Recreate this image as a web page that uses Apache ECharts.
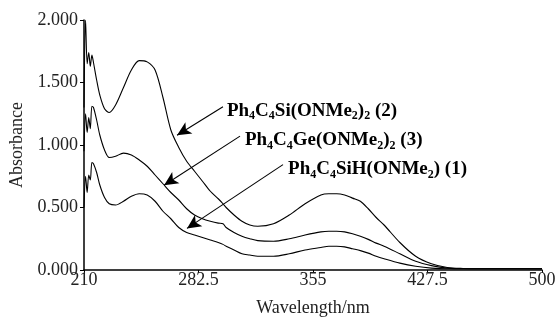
<!DOCTYPE html>
<html><head><meta charset="utf-8">
<script src="https://cdn.jsdelivr.net/npm/echarts@6/dist/echarts.min.js"></script>
<style>html,body{margin:0;padding:0;background:#fff}#c{width:559px;height:322px}</style>
</head><body><div id="c"></div>
<script>
// ---- data ----
const wavelengths = [210,211,212,213,214,215,216,218,220,223,226,230,235,240,245,250,255,260,265,270,275,280,285,290,295,298,300,305,310,315,320,330,340,350,360,365,370,375,380,385,390,395,400,410,420,430,440,450,460,470,480,490,500];
const absSi2 =  [1.30,2.00,1.65,1.74,1.63,1.72,1.66,1.52,1.40,1.29,1.26,1.32,1.46,1.60,1.675,1.665,1.60,1.38,1.12,0.98,0.87,0.79,0.71,0.63,0.57,0.53,0.50,0.44,0.39,0.36,0.35,0.37,0.44,0.53,0.60,0.61,0.61,0.60,0.575,0.55,0.49,0.42,0.36,0.22,0.11,0.05,0.02,0.012,0.01,0.01,0.01,0.01,0.01];
const absGe3 =  [0.95,1.25,1.10,1.22,1.13,1.31,1.30,1.20,1.08,0.96,0.90,0.91,0.935,0.92,0.88,0.83,0.76,0.69,0.62,0.56,0.49,0.44,0.41,0.39,0.375,0.37,0.34,0.30,0.27,0.25,0.235,0.23,0.25,0.28,0.305,0.31,0.31,0.305,0.29,0.27,0.245,0.215,0.19,0.13,0.07,0.035,0.015,0.01,0.01,0.01,0.01,0.01,0.01];
const absSiH1 = [0.50,0.75,0.62,0.76,0.72,0.86,0.85,0.78,0.68,0.58,0.53,0.52,0.55,0.59,0.61,0.60,0.55,0.47,0.41,0.34,0.30,0.28,0.26,0.24,0.22,0.205,0.19,0.16,0.13,0.12,0.11,0.11,0.13,0.16,0.18,0.19,0.19,0.185,0.17,0.155,0.135,0.11,0.09,0.055,0.03,0.015,0.01,0.01,0.01,0.01,0.01,0.01,0.01];
const xTickLabels = [210, 282.5, 355, 427.5, 500];
const yTickLabels = [0, 0.5, 1, 1.5, 2];
const seriesNames = ['Ph4C4SiH(ONMe2) (1)','Ph4C4Si(ONMe2)2 (2)','Ph4C4Ge(ONMe2)2 (3)'];

// ---- annotations (layout, data-space anchors) ----
const annotations = [
  {text:'{n|Ph}{s|4}{n|C}{s|4}{n|Si(ONMe}{s|2}{n|)}{s|2}{n| (2)}', at:[300.5,1.275], from:[298.0,1.306], to:[268.9,1.078]},
  {text:'{n|Ph}{s|4}{n|C}{s|4}{n|Ge(ONMe}{s|2}{n|)}{s|2}{n| (3)}', at:[311.9,1.039], from:[308.8,1.071], to:[260.7,0.678]},
  {text:'{n|Ph}{s|4}{n|C}{s|4}{n|SiH(ONMe}{s|2}{n|) (1)}', at:[339.2,0.804], from:[336.0,0.843], to:[275.2,0.333]}
];

const xStep = xTickLabels[1]-xTickLabels[0];
const yStep = yTickLabels[1]-yTickLabels[0];
const font = '"Liberation Serif", "Times New Roman", serif';
const pair = arr => wavelengths.map((w,i)=>[w,arr[i]]);

const lineBase = {type:'line', showSymbol:false, smooth:0.3, lineStyle:{color:'#000', width:1.1}, silent:true};

const chart = echarts.init(document.getElementById('c'));
chart.setOption({
  animation:false,
  backgroundColor:'#fff',
  grid:{left:84, right:17, top:20, bottom:48},
  xAxis:{type:'value', min:xTickLabels[0], max:xTickLabels[xTickLabels.length-1], interval:xStep,
    axisLine:{lineStyle:{color:'#000', width:1.5}}, axisTick:{show:true, length:3, inside:false, lineStyle:{color:'#000'}},
    splitLine:{show:false},
    axisLabel:{color:'#222', fontFamily:font, fontSize:18, margin:1, formatter:v=>String(v)},
    name:'Wavelength/nm', nameLocation:'middle', nameGap:29, nameTextStyle:{color:'#222', fontFamily:font, fontSize:18}},
  yAxis:{type:'value', min:yTickLabels[0], max:yTickLabels[yTickLabels.length-1], interval:yStep,
    axisLine:{show:true, lineStyle:{color:'#000', width:1.5}}, axisTick:{show:true, length:4, lineStyle:{color:'#000'}},
    splitLine:{show:false},
    axisLabel:{color:'#222', fontFamily:font, fontSize:18, margin:6, formatter:v=>v.toFixed(3)},
    name:'Absorbance', nameLocation:'middle', nameGap:57, nameTextStyle:{color:'#222', fontFamily:font, fontSize:18}},
  series:[
    Object.assign({}, lineBase, {name:seriesNames[0], data:pair(absSiH1)}),
    Object.assign({}, lineBase, {name:seriesNames[1], data:pair(absSi2)}),
    Object.assign({}, lineBase, {name:seriesNames[2], data:pair(absGe3),
      markLine:{silent:true, symbol:['none','arrow'], symbolSize:[10,14], animation:false,
        lineStyle:{color:'#000', type:'solid', width:1.1}, label:{show:false},
        data:annotations.map(a=>[{coord:a.from},{coord:a.to}])},
      markPoint:{silent:true, symbol:'circle', symbolSize:0, animation:false,
        label:{show:true, position:'right', distance:0, color:'#000',
          rich:{n:{fontFamily:font, fontSize:19, fontWeight:'bold', color:'#000', lineHeight:23},
                s:{fontFamily:font, fontSize:12, fontWeight:'bold', color:'#000', verticalAlign:'bottom', lineHeight:14}}},
        data:annotations.map(a=>({coord:a.at, label:{formatter:a.text}}))}
    })
  ]
});
</script></body></html>
